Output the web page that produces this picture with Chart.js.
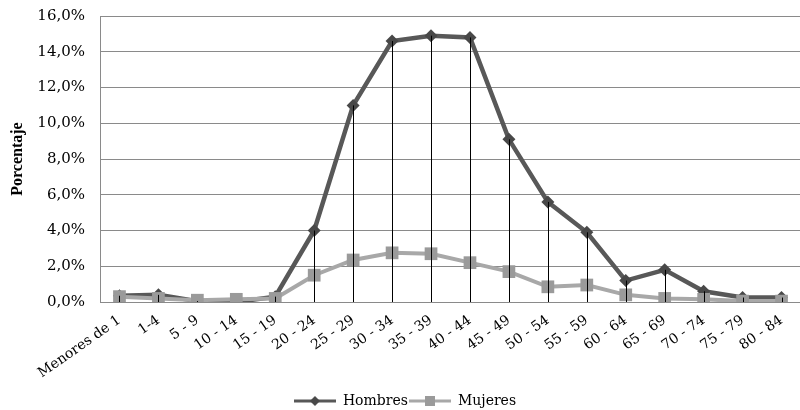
<!DOCTYPE html>
<html>
<head>
<meta charset="utf-8">
<script src="https://cdn.jsdelivr.net/npm/chart.js@4"></script>
<style>
html,body{margin:0;padding:0;background:#fff;overflow:hidden;}
#wrap{width:810px;height:410px;position:relative;}
</style>
</head>
<body>
<div id="wrap"><canvas id="c"></canvas></div>
<script>
const categories = ["Menores de 1","1-4","5 - 9","10 - 14","15 - 19","20 - 24","25 - 29","30 - 34","35 - 39","40 - 44","45 - 49","50 - 54","55 - 59","60 - 64","65 - 69","70 - 74","75 - 79","80 - 84"];
const hombres = [0.35,0.4,0.05,0.0,0.3,4.0,11.0,14.6,14.9,14.8,9.1,5.6,3.9,1.2,1.8,0.6,0.25,0.25];
const mujeres = [0.3,0.2,0.1,0.15,0.2,1.5,2.35,2.75,2.7,2.2,1.7,0.85,0.95,0.4,0.2,0.15,0.05,0.05];
const yTicks = [0,2,4,6,8,10,12,14,16];

const C_H = '#585858', C_HM = '#484848';
const C_M = '#a8a8a8', C_MM = '#9a9a9a';

function legendIcon(kind){
  const cv = document.createElement('canvas');
  cv.width = 42; cv.height = 12;
  const g = cv.getContext('2d');
  g.strokeStyle = kind === 'h' ? C_H : C_M;
  g.lineWidth = 3;
  g.beginPath(); g.moveTo(0,6); g.lineTo(42,6); g.stroke();
  g.fillStyle = kind === 'h' ? C_HM : C_MM;
  if (kind === 'h') {
    g.beginPath(); g.moveTo(21,1); g.lineTo(26,6); g.lineTo(21,11); g.lineTo(16,6); g.closePath(); g.fill();
  } else {
    g.fillRect(16,1,10,10);
  }
  return cv;
}

const dropLines = {
  id: 'dropLines',
  afterDatasetsDraw(chart) {
    const meta = chart.getDatasetMeta(0);
    const ctx = chart.ctx;
    const bottom = chart.scales.y.getPixelForValue(0);
    ctx.save();
    ctx.strokeStyle = '#000';
    ctx.lineWidth = 1;
    meta.data.forEach(p => {
      const x = Math.round(p.x) + 0.5;
      ctx.beginPath(); ctx.moveTo(x, p.y); ctx.lineTo(x, bottom); ctx.stroke();
    });
    ctx.restore();
  }
};

const legendShift = {
  id: 'legendShift',
  afterLayout(chart) {
    if (chart.legend) { chart.legend.top += 8; chart.legend.bottom += 8; }
  }
};

new Chart(document.getElementById('c'), {
  type: 'line',
  data: {
    labels: categories,
    datasets: [
      { label: 'Hombres', data: hombres, borderColor: C_H, backgroundColor: C_HM, borderWidth: 4.5,
        pointStyle: 'rectRot', pointRadius: 6.5, pointBackgroundColor: C_HM, pointBorderColor: C_HM, pointBorderWidth: 0,
        tension: 0, order: 1 },
      { label: 'Mujeres', data: mujeres, borderColor: C_M, backgroundColor: C_MM, borderWidth: 4,
        pointStyle: 'rect', pointRadius: 9, pointBackgroundColor: C_MM, pointBorderColor: C_MM, pointBorderWidth: 0,
        tension: 0, order: 0 }
    ]
  },
  options: {
    responsive: true,
    maintainAspectRatio: false,
    animation: false,
    layout: { padding: { top: 16, left: 0, right: 0, bottom: 0 } },
    plugins: {
      tooltip: { enabled: false },
      legend: {
        position: 'bottom',
        labels: {
          font: { family: 'DejaVu Serif', size: 14 },
          color: '#000',
          usePointStyle: true,
          pointStyleWidth: 42,
          padding: 1,
          sort: (a, b) => a.datasetIndex - b.datasetIndex,
          generateLabels(chart) {
            return chart.data.datasets.map((ds, i) => ({
              text: ds.label,
              pointStyle: legendIcon(i === 0 ? 'h' : 'm'),
              fillStyle: ds.borderColor,
              strokeStyle: ds.borderColor,
              lineWidth: 0,
              hidden: false,
              datasetIndex: i,
              fontColor: '#000'
            }));
          }
        }
      }
    },
    scales: {
      x: {
        offset: true,
        grid: { display: false, drawTicks: false },
        border: { display: false },
        ticks: {
          font: { family: 'DejaVu Serif', size: 14 },
          color: '#000',
          minRotation: 35, maxRotation: 35,
          autoSkip: false,
          padding: 10
        },
        afterFit(scale) {
          const lg = scale.chart.legend;
          scale.height = scale.chart.height - 302 - (lg ? lg.height : 30);
        }
      },
      y: {
        min: 0, max: 16,
        afterBuildTicks(scale) { scale.ticks = yTicks.map(v => ({ value: v })); },
        grid: { color: '#8a8a8a', lineWidth: 1, drawTicks: false },
        border: { display: true, color: '#8a8a8a' },
        ticks: {
          font: { family: 'DejaVu Serif', size: 15 },
          color: '#000',
          padding: 15,
          callback: v => v.toFixed(1).replace('.', ',') + '%'
        },
        title: {
          display: true,
          text: 'Porcentaje',
          font: { family: 'Liberation Serif', size: 16, weight: 'bold' },
          color: '#000',
          padding: { top: 8, bottom: 0 }
        },
        afterFit(scale) { scale.width = 100; scale.paddingTop = 0; scale.paddingBottom = 0; }
      }
    }
  },
  plugins: [dropLines, legendShift]
});
</script>
</body>
</html>
